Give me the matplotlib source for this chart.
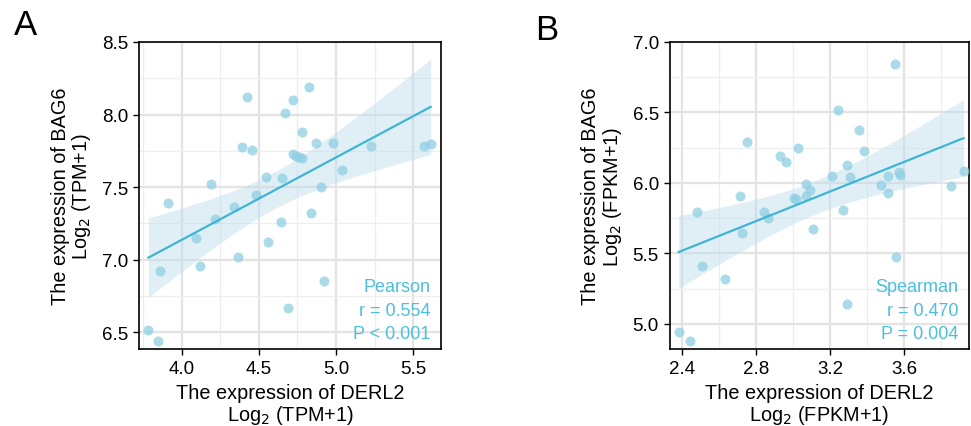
import numpy as np
import matplotlib
matplotlib.use("Agg")
from matplotlib import pyplot as plt
from matplotlib.ticker import MultipleLocator, FormatStrFormatter

plt.rcParams["font.family"] = ["Liberation Sans", "DejaVu Sans"]

# panel A: TPM
derl2_tpm = [3.785, 3.845, 3.862, 3.910, 4.092, 4.118, 4.187, 4.213, 4.338, 4.366,
             4.394, 4.424, 4.458, 4.484, 4.544, 4.559, 4.643, 4.649, 4.669, 4.688,
             4.723, 4.723, 4.738, 4.757, 4.781, 4.778, 4.822, 4.839, 4.869, 4.903,
             4.925, 4.983, 5.037, 5.226, 5.568, 5.613]
bag6_tpm = [6.512, 6.438, 6.924, 7.391, 7.148, 6.953, 7.524, 7.279, 7.361, 7.018,
            7.773, 8.119, 7.757, 7.448, 7.569, 7.121, 7.260, 7.565, 8.009, 6.663,
            8.098, 7.727, 7.714, 7.709, 7.702, 7.879, 8.190, 7.322, 7.803, 7.503,
            6.850, 7.803, 7.618, 7.782, 7.785, 7.794]

# panel B: FPKM
derl2_fpkm = [2.382, 2.443, 2.483, 2.508, 2.630, 2.711, 2.724, 2.749, 2.843, 2.866,
              2.928, 2.964, 3.002, 3.016, 3.027, 3.067, 3.071, 3.089, 3.108, 3.211,
              3.240, 3.271, 3.293, 3.293, 3.305, 3.356, 3.385, 3.477, 3.510, 3.513,
              3.548, 3.553, 3.571, 3.577, 3.853, 3.920]
bag6_fpkm = [4.943, 4.877, 5.792, 5.410, 5.318, 5.906, 5.646, 6.290, 5.792, 5.752,
             6.189, 6.146, 5.896, 5.889, 6.248, 5.906, 5.995, 5.948, 5.675, 6.052,
             6.517, 5.807, 6.127, 5.144, 6.040, 6.373, 6.226, 5.983, 5.925, 6.047,
             6.847, 5.476, 6.075, 6.057, 5.981, 6.087]

stats_a = ["Pearson", "r = 0.554", "P < 0.001"]
stats_b = ["Spearman", "r = 0.470", "P = 0.004"]

PT = "#8fd0e2"
LINE = "#3fb5d5"
BAND = "#bcdcec"
TXT = "#4dbfdc"


def draw_panel(ax, x, y, xlim, ylim, xmajor, ymajor, unit, stats):
    x = np.asarray(x)
    y = np.asarray(y)
    slope, icpt = np.polyfit(x, y, 1)
    xs = np.linspace(x.min(), x.max(), 100)
    fit = icpt + slope * xs
    n = len(x)
    resid = y - (icpt + slope * x)
    s = np.sqrt(np.sum(resid ** 2) / (n - 2))
    se = s * np.sqrt(1 / n + (xs - x.mean()) ** 2 / np.sum((x - x.mean()) ** 2))
    t = 2.03
    ax.fill_between(xs, fit - t * se, fit + t * se, color=BAND, alpha=0.45, lw=0, zorder=2)
    ax.scatter(x, y, s=52, color=PT, alpha=0.75, lw=0, zorder=3)
    ax.plot(xs, fit, color=LINE, lw=1.6, zorder=4)

    ax.set_xlim(*xlim)
    ax.set_ylim(*ylim)
    ax.xaxis.set_major_locator(MultipleLocator(xmajor))
    ax.yaxis.set_major_locator(MultipleLocator(ymajor))
    ax.xaxis.set_minor_locator(MultipleLocator(xmajor / 2))
    ax.yaxis.set_minor_locator(MultipleLocator(ymajor / 2))
    ax.xaxis.set_major_formatter(FormatStrFormatter("%.1f"))
    ax.yaxis.set_major_formatter(FormatStrFormatter("%.1f"))
    ax.grid(which="major", color="#e3e3e3", lw=1.6, zorder=0)
    ax.grid(which="minor", color="#eeeeee", lw=0.9, zorder=0)
    ax.set_axisbelow(True)
    ax.tick_params(which="major", length=4, width=1, labelsize=13.5, pad=4, color="black")
    ax.tick_params(which="minor", length=0)
    for sp in ax.spines.values():
        sp.set_color("black")
        sp.set_linewidth(1.2)

    ax.set_xlabel("The expression of DERL2\nLog$_2$ (%s+1)" % unit, fontsize=14.3,
                  labelpad=4, linespacing=1.05)
    ax.set_ylabel("The expression of BAG6\nLog$_2$ (%s+1)" % unit, fontsize=14.3,
                  labelpad=6, linespacing=1.05)

    for i, txt in enumerate(stats):
        ax.text(0.964, 0.205 - i * 0.078, txt, transform=ax.transAxes, ha="right",
                va="center", fontsize=13, color=TXT)


fig = plt.figure(figsize=(9.71, 4.27), dpi=100)
ax1 = fig.add_axes([0.1432, 0.1803, 0.311, 0.719])
ax2 = fig.add_axes([0.690, 0.1803, 0.308, 0.719])

draw_panel(ax1, derl2_tpm, bag6_tpm, (3.724, 5.68), (6.383, 8.5), 0.5, 0.5, "TPM", stats_a)
draw_panel(ax2, derl2_fpkm, bag6_fpkm, (2.335, 3.95), (4.821, 7.0), 0.4, 0.5, "FPKM", stats_b)

fig.text(0.026, 0.94, "A", fontsize=25, ha="center", va="center")
fig.text(0.563, 0.928, "B", fontsize=25, ha="center", va="center")

fig.savefig("out.png", dpi=100)
